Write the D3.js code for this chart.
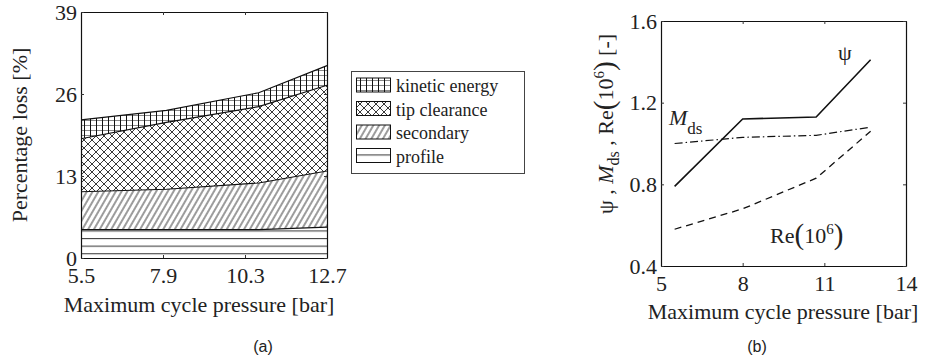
<!DOCTYPE html>
<html>
<head>
<meta charset="utf-8">
<script src="https://cdn.jsdelivr.net/npm/d3@7"></script>
<style>
  html, body { margin: 0; padding: 0; background: #fff; }
  svg { display: block; }
  svg text { font-family: "Liberation Serif", "Times New Roman", Times, "DejaVu Serif", serif !important; fill: #222; }
  svg text.cap { font-family: "Liberation Sans", Arial, sans-serif !important; }
</style>
</head>
<body>
<svg id="fig" width="928" height="364"></svg>
<script>
// Loss breakdown vs. maximum cycle pressure (a)
const pressure = [5.5, 8.0, 10.7, 12.7];
const profileLoss = [4.5, 4.5, 4.5, 4.9];
const secondaryLoss = [6.0, 6.4, 7.4, 8.9];
const tipClearanceLoss = [8.4, 10.6, 12.1, 13.6];
const kineticEnergyLoss = [3.0, 1.9, 2.2, 3.1];
const lossTicksX = [5.5, 7.9, 10.3, 12.7];
const lossTicksY = [0, 13, 26, 39];
const lossKeys = ["profile", "secondary", "tip", "kinetic"];
const lossNames = ["profile", "secondary", "tip clearance", "kinetic energy"];

// Loading coefficient, Mach number and Reynolds number (b)
const psi = [0.79, 1.12, 1.13, 1.41];
const machDs = [1.00, 1.03, 1.04, 1.08];
const reynolds = [0.58, 0.68, 0.83, 1.06];
const ticksBX = [5, 8, 11, 14];
const ticksBY = [0.4, 0.8, 1.2, 1.6];

const SERIF = "'Liberation Serif', 'Times New Roman', Times, 'DejaVu Serif', serif";
const svg = d3.select("#fig");
const defs = svg.append("defs");

// Hatch patterns
function pat(id, w, h, extra) {
  const p = defs.append("pattern").attr("id", id)
    .attr("patternUnits", "userSpaceOnUse").attr("width", w).attr("height", h);
  if (extra) extra(p);
  p.append("rect").attr("width", w).attr("height", h).attr("fill", "#fff");
  return p;
}
const pk = pat("hatch-kinetic", 6, 5);
pk.append("line").attr("x1", 0).attr("x2", 6).attr("y1", 0.5).attr("y2", 0.5).attr("stroke", "#888").attr("stroke-width", 1);
pk.append("line").attr("x1", 0.5).attr("x2", 0.5).attr("y1", 0).attr("y2", 5).attr("stroke", "#111").attr("stroke-width", 1);

const pt = pat("hatch-tip", 8, 8);
pt.append("path").attr("d", "M0,0L8,8M0,8L8,0M-1,7L1,9M7,-1L9,1M-1,1L1,-1M7,9L9,7")
  .attr("stroke", "#222").attr("stroke-width", 0.9).attr("fill", "none");

const ps = pat("hatch-sec", 5, 10, p => p.attr("patternTransform", "rotate(30)"));
ps.append("line").attr("x1", 1).attr("x2", 1).attr("y1", 0).attr("y2", 10).attr("stroke", "#222").attr("stroke-width", 0.9);

const pp = pat("hatch-profile", 10, 7.6, p => p.attr("y", 238));
pp.append("line").attr("x1", 0).attr("x2", 10).attr("y1", 0.5).attr("y2", 0.5).attr("stroke", "#444").attr("stroke-width", 1.2);

const fills = { profile: "url(#hatch-profile)", secondary: "url(#hatch-sec)", tip: "url(#hatch-tip)", kinetic: "url(#hatch-kinetic)" };

// ---------- Panel (a) ----------
const xa = d3.scaleLinear().domain([5.5, 12.7]).range([81, 327]);
const ya = d3.scaleLinear().domain([0, 39]).range([258, 12]);

const rows = pressure.map((p, i) => ({
  p, profile: profileLoss[i], secondary: secondaryLoss[i], tip: tipClearanceLoss[i], kinetic: kineticEnergyLoss[i]
}));
const layers = d3.stack().keys(lossKeys)(rows);
const area = d3.area().x(d => xa(d.data.p)).y0(d => ya(d[0])).y1(d => ya(d[1]));
const topLine = d3.line().x(d => xa(d.data.p)).y(d => ya(d[1]));

const ga = svg.append("g");
ga.selectAll("path.layer").data(layers).join("path").attr("class", "layer")
  .attr("d", area).attr("fill", d => fills[d.key]);
ga.selectAll("path.edge").data(layers).join("path").attr("class", "edge")
  .attr("d", topLine).attr("fill", "none").attr("stroke", "#111").attr("stroke-width", 1.1);

function styleAxis(g) {
  g.attr("font-size", null).attr("font-family", null);
  g.selectAll("path.domain").attr("stroke", "#111").attr("stroke-width", 1.2);
  g.selectAll(".tick line").attr("stroke", "#333");
  g.selectAll("text").style("font-family", SERIF).attr("font-size", 22).attr("fill", "#222");
}
function frame(g, x, y, tx, ty, fx, fy) {
  g.append("g").attr("transform", `translate(0,${y.range()[0]})`)
    .call(d3.axisBottom(x).tickValues(tx).tickFormat(fx).tickSize(-3).tickSizeOuter(0).tickPadding(9)).call(styleAxis);
  g.append("g").attr("transform", `translate(0,${y.range()[1]})`)
    .call(d3.axisTop(x).tickValues(tx).tickFormat("").tickSize(-3).tickSizeOuter(0)).call(styleAxis);
  g.append("g").attr("transform", `translate(${x.range()[0]},0)`)
    .call(d3.axisLeft(y).tickValues(ty).tickFormat(fy).tickSize(-3).tickSizeOuter(0).tickPadding(4)).call(styleAxis);
  g.append("g").attr("transform", `translate(${x.range()[1]},0)`)
    .call(d3.axisRight(y).tickValues(ty).tickFormat("").tickSize(-3).tickSizeOuter(0)).call(styleAxis);
}
frame(ga, xa, ya, lossTicksX, lossTicksY, d3.format(".1f"), d3.format("d"));

ga.append("text").attr("x", 199).attr("y", 312).attr("text-anchor", "middle")
  .attr("font-size", 22).text("Maximum cycle pressure [bar]");
ga.append("text").attr("transform", "translate(27,135) rotate(-90)").attr("text-anchor", "middle")
  .attr("font-size", 22).text("Percentage loss [%]");

// Legend
const lg = svg.append("g");
lg.append("rect").attr("x", 351.5).attr("y", 71.5).attr("width", 173).attr("height", 102)
  .attr("fill", "#fff").attr("stroke", "#444").attr("stroke-width", 1);
const legendOrder = [3, 2, 1, 0];
legendOrder.forEach((k, i) => {
  const yy = 78 + i * 23.5;
  lg.append("rect").attr("x", 356.5).attr("y", yy).attr("width", 34).attr("height", 14)
    .attr("fill", fills[lossKeys[k]]).attr("stroke", "#111").attr("stroke-width", 1);
  lg.append("text").attr("x", 396).attr("y", yy + 14).attr("font-size", 18).text(lossNames[k]);
});

svg.append("text").attr("class", "cap").attr("x", 263).attr("y", 352).attr("text-anchor", "middle")
  .attr("font-size", 16).text("(a)");

// ---------- Panel (b) ----------
const xb = d3.scaleLinear().domain([5, 14]).range([661, 906]);
const yb = d3.scaleLinear().domain([0.4, 1.6]).range([266, 21]);
const gb = svg.append("g");
const line = d3.line().x((d, i) => xb(pressure[i])).y(d => yb(d));

gb.append("path").datum(reynolds).attr("d", line).attr("fill", "none")
  .attr("stroke", "#111").attr("stroke-width", 1.3).attr("stroke-dasharray", "7,5");
gb.append("path").datum(machDs).attr("d", line).attr("fill", "none")
  .attr("stroke", "#111").attr("stroke-width", 1.2).attr("stroke-dasharray", "8,3,1.5,3");
gb.append("path").datum(psi).attr("d", line).attr("fill", "none")
  .attr("stroke", "#111").attr("stroke-width", 1.6);

frame(gb, xb, yb, ticksBX, ticksBY, d3.format("d"), d3.format(".1f"));

gb.append("text").attr("x", 783).attr("y", 319).attr("text-anchor", "middle")
  .attr("font-size", 22).text("Maximum cycle pressure [bar]");

// Rotated axis title with sub/superscripts
const yt = gb.append("text").attr("transform", "translate(613,124) rotate(-90)")
  .attr("text-anchor", "middle").attr("font-size", 22);
yt.append("tspan").text("ψ , ");
yt.append("tspan").attr("font-style", "italic").text("M");
yt.append("tspan").attr("font-size", 16).attr("dy", 6).text("ds");
yt.append("tspan").attr("dy", -6).text(" , Re");
yt.append("tspan").attr("font-size", 29).attr("dy", 1).text("(");
yt.append("tspan").attr("dy", -1).text("10");
yt.append("tspan").attr("font-size", 15).attr("dy", -9).text("6");
yt.append("tspan").attr("font-size", 29).attr("dy", 10).text(")");
yt.append("tspan").attr("dy", -1).text(" [-]");

// Curve labels
gb.append("text").attr("x", 845).attr("y", 60).attr("text-anchor", "middle").attr("font-size", 22).text("ψ");
const ml = gb.append("text").attr("x", 669).attr("y", 125).attr("font-size", 22);
ml.append("tspan").attr("font-style", "italic").text("M");
ml.append("tspan").attr("font-size", 17).attr("dy", 9).text("ds");
const rl = gb.append("text").attr("x", 770).attr("y", 243).attr("font-size", 22);
rl.append("tspan").text("Re");
rl.append("tspan").attr("font-size", 29).attr("dy", 1).text("(");
rl.append("tspan").attr("dy", -1).text("10");
rl.append("tspan").attr("font-size", 15).attr("dy", -9).text("6");
rl.append("tspan").attr("font-size", 29).attr("dy", 10).text(")");

svg.append("text").attr("class", "cap").attr("x", 757).attr("y", 352).attr("text-anchor", "middle")
  .attr("font-size", 16).text("(b)");
</script>
</body>
</html>
